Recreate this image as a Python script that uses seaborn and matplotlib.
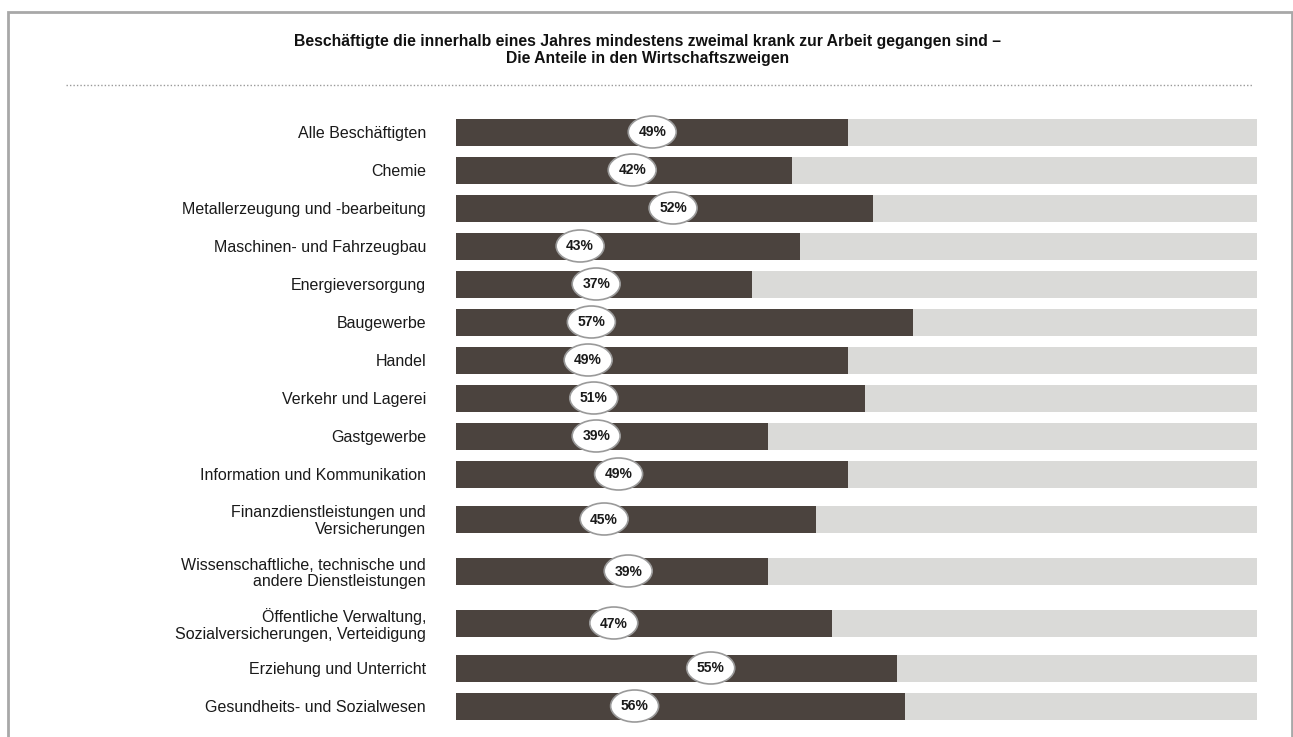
import matplotlib
matplotlib.use("Agg")
import matplotlib.pyplot as plt
from matplotlib.patches import Ellipse, Rectangle
from matplotlib.lines import Line2D
import seaborn as sns
import pandas as pd

# ---- data ----
categories = [
    "Alle Beschäftigten",
    "Chemie",
    "Metallerzeugung und -bearbeitung",
    "Maschinen- und Fahrzeugbau",
    "Energieversorgung",
    "Baugewerbe",
    "Handel",
    "Verkehr und Lagerei",
    "Gastgewerbe",
    "Information und Kommunikation",
    "Finanzdienstleistungen und\nVersicherungen",
    "Wissenschaftliche, technische und\nandere Dienstleistungen",
    "Öffentliche Verwaltung,\nSozialversicherungen, Verteidigung",
    "Erziehung und Unterricht",
    "Gesundheits- und Sozialwesen",
]
values = [49, 42, 52, 43, 37, 57, 49, 51, 39, 49, 45, 39, 47, 55, 56]
total = [100] * len(categories)
value_labels = [f"{v}%" for v in values]
# horizontal placement of the value badges (percent of the axis)
badge_x = [24.5, 22.0, 27.1, 15.5, 17.5, 16.9, 16.5, 17.2, 17.5, 20.3, 18.5, 21.5, 19.7, 31.8, 22.3]

title = ("Beschäftigte die innerhalb eines Jahres mindestens zweimal krank zur Arbeit gegangen sind –\n"
         "Die Anteile in den Wirtschaftszweigen")

FONT = ["Liberation Sans", "DejaVu Sans"]
DARK = "#4b433e"
LIGHT = "#dadad8"

sns.set_theme(style="white")
plt.rcParams["font.family"] = FONT

# row centres (pixel-like units): taller rows for two-line labels
half = [26 if "\n" in c else 19 for c in categories]
pos = [0.0]
for i in range(1, len(categories)):
    pos.append(pos[-1] + half[i - 1] + half[i])

df = pd.DataFrame({"cat": categories, "pos": pos, "value": values, "total": total})

W, H = 1293, 737
fig = plt.figure(figsize=(W / 100, H / 100), dpi=100)
ax = fig.add_axes([456 / W, 0, 801 / W, (737 - 100) / H])

bw = 27 / 38
sns.barplot(data=df, x="total", y="pos", orient="h", native_scale=True,
            color=LIGHT, saturation=1, width=bw, linewidth=0, ax=ax)
sns.barplot(data=df, x="value", y="pos", orient="h", native_scale=True,
            color=DARK, saturation=1, width=bw, linewidth=0, ax=ax)

first_px = 132
top_val = -(first_px - 100)
ax.set_ylim(top_val + (737 - 100), top_val)
ax.set_xlim(0, 100)

for p, bx, lab in zip(pos, badge_x, value_labels):
    ax.add_patch(Ellipse((bx, p), width=48 / 8.01, height=32, facecolor="white",
                         edgecolor="#9a9a9a", linewidth=1.2, zorder=5))
    ax.text(bx, p + 0.5, lab, ha="center", va="center", fontsize=10, fontweight="bold",
            color="#1a1a1a", zorder=6)

ax.set_yticks(pos)
ax.set_yticklabels(categories, fontsize=11.5, color="#1a1a1a", ha="right",
                   linespacing=1.1)
ax.tick_params(axis="y", length=0, pad=21.6)
ax.set_xticks([])
ax.set_xlabel("")
ax.set_ylabel("")
for s in ax.spines.values():
    s.set_visible(False)

fig.text(648 / W, 1 - 50 / H, title, ha="center", va="center", fontsize=11.3,
         fontweight="bold", color="#111111", linespacing=1.2)

fig.add_artist(Line2D([66 / W, 1252 / W], [1 - 85 / H, 1 - 85 / H], transform=fig.transFigure,
                      color="#999999", linewidth=1, linestyle=(0, (1, 1.5))))
fig.add_artist(Rectangle((7.5 / W, -0.05), (1291.5 - 7.5) / W, 1.05 - 11.5 / H,
                         transform=fig.transFigure, fill=False, edgecolor="#a8a8a8",
                         linewidth=2))

fig.savefig("out.png", dpi=100)
